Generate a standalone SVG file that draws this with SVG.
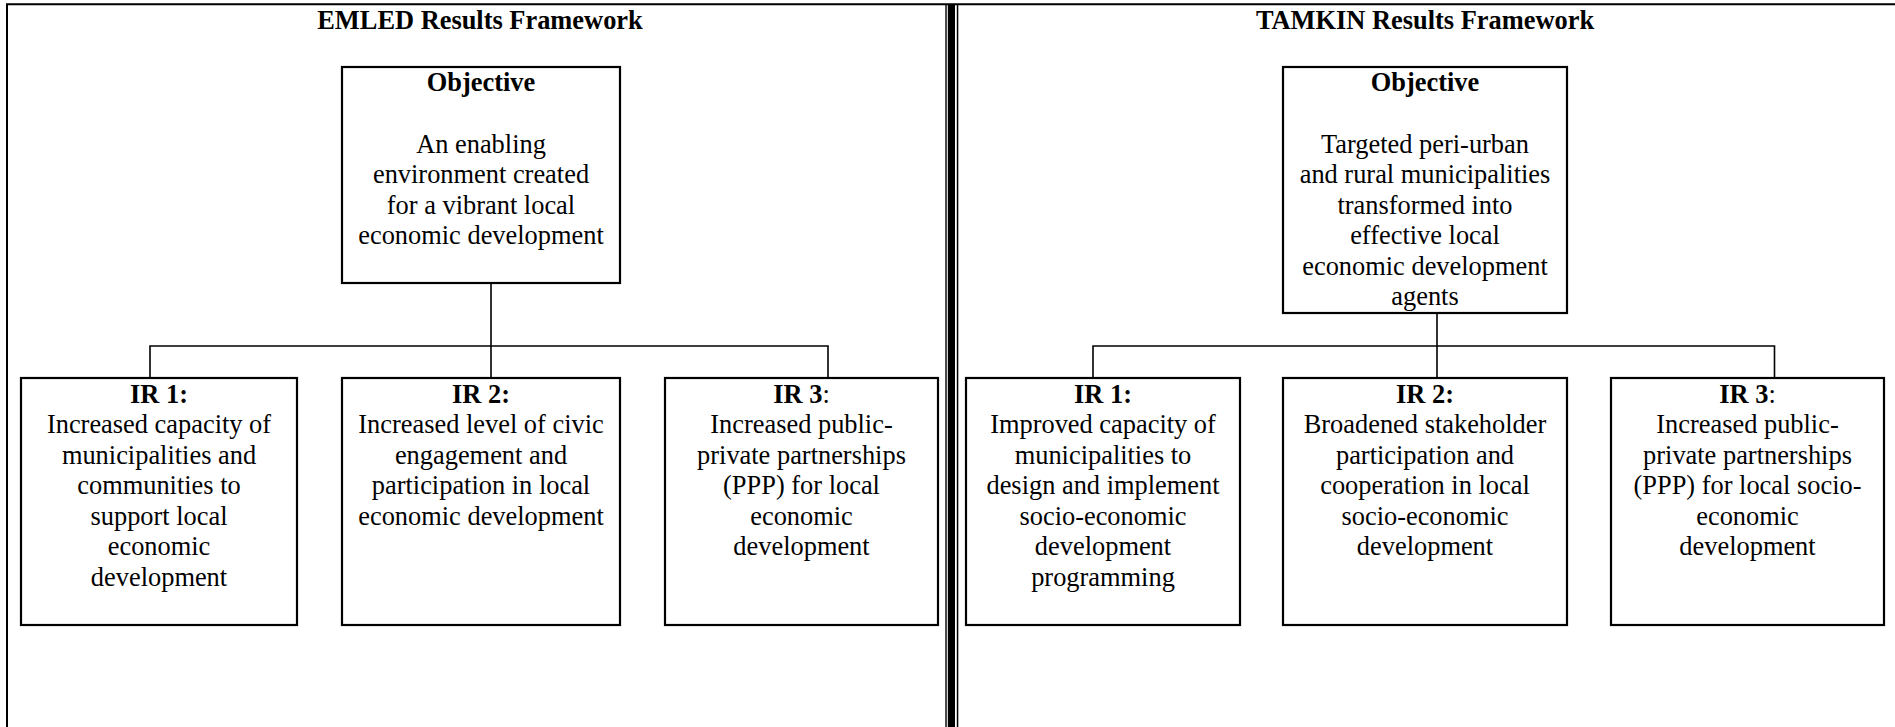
<svg xmlns="http://www.w3.org/2000/svg" width="1895" height="727" viewBox="0 0 1895 727">
<style>
text{font-family:"Liberation Serif","Times New Roman",serif;font-size:26.4px;fill:#000;text-anchor:middle}
.b{font-weight:bold}
.box{fill:#fff;stroke:#000;stroke-width:2.2}
.con{fill:none;stroke:#000;stroke-width:1.6}
.frame{fill:none;stroke:#000;stroke-width:2}
</style>
<rect width="1895" height="727" fill="#fff"/>
<g id="frame">
<path class="frame" d="M7,727 V4.3 H1895"/>
<rect x="945.3" y="5" width="1.4" height="722" fill="#000"/>
<rect x="947.8" y="5" width="7.2" height="722" fill="#000"/>
<rect x="956.8" y="5" width="1.5" height="722" fill="#000"/>
</g>
<g id="connectors">
<path class="con" d="M491,283 V346 M150,378 V346 H828 V378 M491,346 V378"/>
<path class="con" d="M1437,313 V346 M1093,378 V346 H1774.5 V378 M1437,346 V378"/>
</g>
<g id="title-emled"><text class="b" x="480" y="29.3">EMLED Results Framework</text></g>
<g id="title-tamkin"><text class="b" x="1425" y="29.3">TAMKIN Results Framework</text></g>
<g id="emled-objective">
<rect class="box" x="342" y="67" width="278" height="216"/>
<text class="b" x="481" y="91">Objective</text>
<text x="481" y="152.5">An enabling</text>
<text x="481" y="183">environment created</text>
<text x="481" y="213.5">for a vibrant local</text>
<text x="481" y="244">economic development</text>
</g>
<g id="emled-ir1">
<rect class="box" x="21" y="378" width="276" height="247"/>
<text class="b" x="159" y="402.5">IR 1:</text>
<text x="159" y="433">Increased capacity of</text>
<text x="159" y="463.5">municipalities and</text>
<text x="159" y="494">communities to</text>
<text x="159" y="524.5">support local</text>
<text x="159" y="555">economic</text>
<text x="159" y="585.5">development</text>
</g>
<g id="emled-ir2">
<rect class="box" x="342" y="378" width="278" height="247"/>
<text class="b" x="481" y="402.5">IR 2:</text>
<text x="481" y="433">Increased level of civic</text>
<text x="481" y="463.5">engagement and</text>
<text x="481" y="494">participation in local</text>
<text x="481" y="524.5">economic development</text>
</g>
<g id="emled-ir3">
<rect class="box" x="665" y="378" width="273" height="247"/>
<text x="801.5" y="402.5"><tspan class="b">IR 3</tspan>:</text>
<text x="801.5" y="433">Increased public-</text>
<text x="801.5" y="463.5">private partnerships</text>
<text x="801.5" y="494">(PPP) for local</text>
<text x="801.5" y="524.5">economic</text>
<text x="801.5" y="555">development</text>
</g>
<g id="tamkin-objective">
<rect class="box" x="1283" y="67" width="284" height="246"/>
<text class="b" x="1425" y="91">Objective</text>
<text x="1425" y="152.5">Targeted peri-urban</text>
<text x="1425" y="183">and rural municipalities</text>
<text x="1425" y="213.5">transformed into</text>
<text x="1425" y="244">effective local</text>
<text x="1425" y="274.5">economic development</text>
<text x="1425" y="305">agents</text>
</g>
<g id="tamkin-ir1">
<rect class="box" x="966" y="378" width="274" height="247"/>
<text class="b" x="1103" y="402.5">IR 1:</text>
<text x="1103" y="433">Improved capacity of</text>
<text x="1103" y="463.5">municipalities to</text>
<text x="1103" y="494">design and implement</text>
<text x="1103" y="524.5">socio-economic</text>
<text x="1103" y="555">development</text>
<text x="1103" y="585.5">programming</text>
</g>
<g id="tamkin-ir2">
<rect class="box" x="1283" y="378" width="284" height="247"/>
<text class="b" x="1425" y="402.5">IR 2:</text>
<text x="1425" y="433">Broadened stakeholder</text>
<text x="1425" y="463.5">participation and</text>
<text x="1425" y="494">cooperation in local</text>
<text x="1425" y="524.5">socio-economic</text>
<text x="1425" y="555">development</text>
</g>
<g id="tamkin-ir3">
<rect class="box" x="1611" y="378" width="273" height="247"/>
<text x="1747.5" y="402.5"><tspan class="b">IR 3</tspan>:</text>
<text x="1747.5" y="433">Increased public-</text>
<text x="1747.5" y="463.5">private partnerships</text>
<text x="1747.5" y="494">(PPP) for local socio-</text>
<text x="1747.5" y="524.5">economic</text>
<text x="1747.5" y="555">development</text>
</g>
</svg>
